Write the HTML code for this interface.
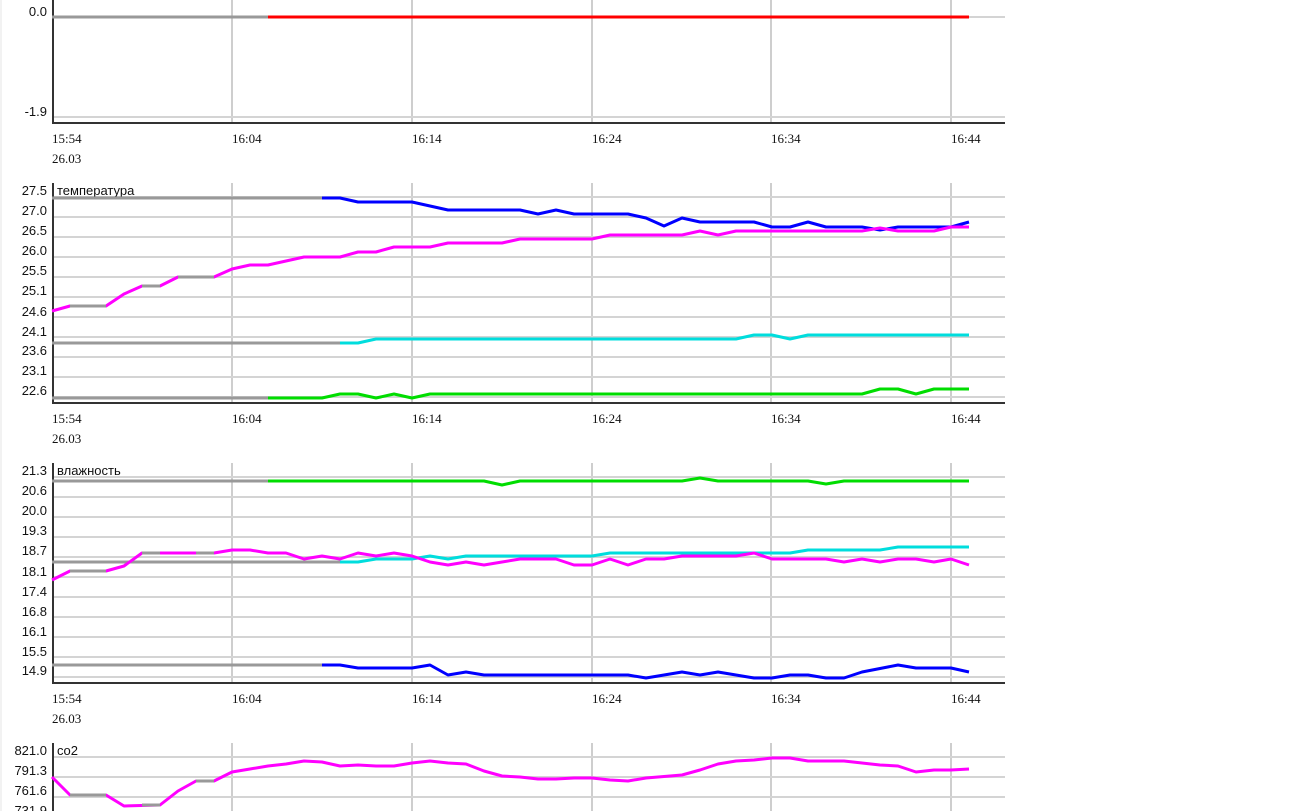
<!DOCTYPE html>
<html><head><meta charset="utf-8"><style>
html,body{margin:0;padding:0;background:#fff;width:1314px;height:811px;overflow:hidden}
svg{display:block}
.yl{font-family:"Liberation Sans",sans-serif;font-size:13px;fill:#111;text-anchor:end}
.xl{font-family:"Liberation Serif",serif;font-size:13px;fill:#111}
.tt{font-family:"Liberation Sans","Noto Sans CJK JP",sans-serif;font-size:13px;fill:#111}
.g{stroke:#d4d4d4;stroke-width:2}
.v{stroke:#bdbdbd;stroke-width:1.5}
.ax{stroke:#333;stroke-width:2}
polyline{fill:none;stroke-width:3;stroke-linejoin:round}
</style></head><body>
<svg width="1314" height="811" xmlns="http://www.w3.org/2000/svg">
<line x1="1" y1="0" x2="1" y2="811" stroke="#e4e4e4"/>
<!-- vertical grids -->
<g class="v">
<line x1="232" y1="0" x2="232" y2="123"/><line x1="412" y1="0" x2="412" y2="123"/><line x1="592" y1="0" x2="592" y2="123"/><line x1="771" y1="0" x2="771" y2="123"/><line x1="951" y1="0" x2="951" y2="123"/>
<line x1="232" y1="183" x2="232" y2="403"/><line x1="412" y1="183" x2="412" y2="403"/><line x1="592" y1="183" x2="592" y2="403"/><line x1="771" y1="183" x2="771" y2="403"/><line x1="951" y1="183" x2="951" y2="403"/>
<line x1="232" y1="463" x2="232" y2="683"/><line x1="412" y1="463" x2="412" y2="683"/><line x1="592" y1="463" x2="592" y2="683"/><line x1="771" y1="463" x2="771" y2="683"/><line x1="951" y1="463" x2="951" y2="683"/>
<line x1="232" y1="743" x2="232" y2="811"/><line x1="412" y1="743" x2="412" y2="811"/><line x1="592" y1="743" x2="592" y2="811"/><line x1="771" y1="743" x2="771" y2="811"/><line x1="951" y1="743" x2="951" y2="811"/>
</g>
<!-- horizontal grids -->
<g class="g">
<line x1="52" y1="17" x2="1005" y2="17"/><line x1="52" y1="117" x2="1005" y2="117"/>
<line x1="52" y1="197" x2="1005" y2="197"/><line x1="52" y1="217" x2="1005" y2="217"/><line x1="52" y1="237" x2="1005" y2="237"/><line x1="52" y1="257" x2="1005" y2="257"/><line x1="52" y1="277" x2="1005" y2="277"/><line x1="52" y1="297" x2="1005" y2="297"/><line x1="52" y1="317" x2="1005" y2="317"/><line x1="52" y1="337" x2="1005" y2="337"/><line x1="52" y1="357" x2="1005" y2="357"/><line x1="52" y1="377" x2="1005" y2="377"/><line x1="52" y1="397" x2="1005" y2="397"/>
<line x1="52" y1="477" x2="1005" y2="477"/><line x1="52" y1="497" x2="1005" y2="497"/><line x1="52" y1="517" x2="1005" y2="517"/><line x1="52" y1="537" x2="1005" y2="537"/><line x1="52" y1="557" x2="1005" y2="557"/><line x1="52" y1="577" x2="1005" y2="577"/><line x1="52" y1="597" x2="1005" y2="597"/><line x1="52" y1="617" x2="1005" y2="617"/><line x1="52" y1="637" x2="1005" y2="637"/><line x1="52" y1="657" x2="1005" y2="657"/><line x1="52" y1="677" x2="1005" y2="677"/>
<line x1="52" y1="757" x2="1005" y2="757"/><line x1="52" y1="777" x2="1005" y2="777"/><line x1="52" y1="797" x2="1005" y2="797"/>
</g>
<!-- axes -->
<g class="ax">
<line x1="53" y1="0" x2="53" y2="124"/><line x1="52" y1="123" x2="1005" y2="123"/>
<line x1="53" y1="183" x2="53" y2="404"/><line x1="52" y1="403" x2="1005" y2="403"/>
<line x1="53" y1="463" x2="53" y2="684"/><line x1="52" y1="683" x2="1005" y2="683"/>
<line x1="53" y1="743" x2="53" y2="811"/>
</g>
<!-- y labels -->
<text class="yl" x="47" y="16">0.0</text><text class="yl" x="47" y="116">-1.9</text>
<text class="yl" x="47" y="195">27.5</text><text class="yl" x="47" y="215">27.0</text><text class="yl" x="47" y="235">26.5</text><text class="yl" x="47" y="255">26.0</text><text class="yl" x="47" y="275">25.5</text><text class="yl" x="47" y="295">25.1</text><text class="yl" x="47" y="316">24.6</text><text class="yl" x="47" y="336">24.1</text><text class="yl" x="47" y="355">23.6</text><text class="yl" x="47" y="375">23.1</text><text class="yl" x="47" y="395">22.6</text>
<text class="yl" x="47" y="475">21.3</text><text class="yl" x="47" y="495">20.6</text><text class="yl" x="47" y="515">20.0</text><text class="yl" x="47" y="535">19.3</text><text class="yl" x="47" y="555">18.7</text><text class="yl" x="47" y="576">18.1</text><text class="yl" x="47" y="596">17.4</text><text class="yl" x="47" y="616">16.8</text><text class="yl" x="47" y="636">16.1</text><text class="yl" x="47" y="656">15.5</text><text class="yl" x="47" y="675">14.9</text>
<text class="yl" x="47" y="755">821.0</text><text class="yl" x="47" y="775">791.3</text><text class="yl" x="47" y="795">761.6</text><text class="yl" x="47" y="815">731.9</text>
<text class="tt" x="57" y="195">температура</text><text class="tt" x="57" y="475">влажность</text><text class="tt" x="57" y="755">co2</text>
<!-- x labels -->
<g class="xl">
<text x="52" y="143">15:54</text><text x="52" y="163">26.03</text><text x="232" y="143">16:04</text><text x="412" y="143">16:14</text><text x="592" y="143">16:24</text><text x="771" y="143">16:34</text><text x="951" y="143">16:44</text>
<text x="52" y="423">15:54</text><text x="52" y="443">26.03</text><text x="232" y="423">16:04</text><text x="412" y="423">16:14</text><text x="592" y="423">16:24</text><text x="771" y="423">16:34</text><text x="951" y="423">16:44</text>
<text x="52" y="703">15:54</text><text x="52" y="723">26.03</text><text x="232" y="703">16:04</text><text x="412" y="703">16:14</text><text x="592" y="703">16:24</text><text x="771" y="703">16:34</text><text x="951" y="703">16:44</text>
</g>
<!-- chart1 -->
<polyline stroke="#999" points="52,17 268,17"/>
<polyline stroke="#f00" points="268,17 969,17"/>
<!-- chart2 -->
<polyline stroke="#999" points="52,198 322,198"/>
<polyline stroke="#00f" points="322,198 340,198 358,202 412,202 448,210 520,210 538,214 556,210 574,214 628,214 646,218 664,226 682,218 700,222 754,222 772,227 790,227 808,222 826,227 862,227 880,230 898,227 951,227 969,222"/>
<polyline stroke="#f0f" points="52,311 70,306 106,306 124,294 142,286 160,286 178,277 214,277 232,269 250,265 268,265 286,261 304,257 340,257 358,252 376,252 394,247 430,247 448,243 502,243 520,239 592,239 610,235 682,235 700,231 718,235 736,231 862,231 880,228 898,231 934,231 951,227 969,227"/>
<polyline stroke="#999" points="70,306 106,306"/><polyline stroke="#999" points="142,286 160,286"/><polyline stroke="#999" points="178,277 214,277"/>
<polyline stroke="#999" points="52,343 340,343"/>
<polyline stroke="#0dd" points="340,343 358,343 376,339 736,339 754,335 772,335 790,339 808,335 969,335"/>
<polyline stroke="#999" points="52,398 268,398"/>
<polyline stroke="#0d0" points="268,398 322,398 340,394 358,394 376,398 394,394 412,398 430,394 862,394 880,389 898,389 916,394 934,389 969,389"/>
<!-- chart3 -->
<polyline stroke="#999" points="52,481 268,481"/>
<polyline stroke="#0d0" points="268,481 484,481 502,485 520,481 682,481 700,478 718,481 808,481 826,484 844,481 969,481"/>
<polyline stroke="#999" points="52,562 340,562"/>
<polyline stroke="#0dd" points="340,562 358,562 376,559 412,559 430,556 448,559 466,556 592,556 610,553 790,553 808,550 880,550 898,547 969,547"/>
<polyline stroke="#f0f" points="52,580 70,571 106,571 124,566 142,553 214,553 232,550 250,550 268,553 286,553 304,559 322,556 340,559 358,553 376,556 394,553 412,556 430,562 448,565 466,562 484,565 502,562 520,559 556,559 574,565 592,565 610,559 628,565 646,559 664,559 682,556 736,556 754,553 772,559 826,559 844,562 862,559 880,562 898,559 916,559 934,562 951,559 969,565"/>
<polyline stroke="#999" points="70,571 106,571"/><polyline stroke="#999" points="142,553 160,553"/><polyline stroke="#999" points="196,553 214,553"/>
<polyline stroke="#999" points="52,665 322,665"/>
<polyline stroke="#00f" points="322,665 340,665 358,668 412,668 430,665 448,675 466,672 484,675 628,675 646,678 682,672 700,675 718,672 754,678 772,678 790,675 808,675 826,678 844,678 862,672 898,665 916,668 951,668 969,672"/>
<!-- chart4 -->
<polyline stroke="#f0f" points="52,777 70,795 106,795 124,806 160,805 178,791 196,781 214,781 232,772 250,769 268,766 286,764 304,761 322,762 340,766 358,765 376,766 394,766 412,763 430,761 448,763 466,764 484,771 502,776 520,777 538,779 556,779 574,778 592,778 610,780 628,781 646,778 682,775 700,770 718,764 736,761 754,760 772,758 790,758 808,761 844,761 862,763 880,765 898,766 916,772 934,770 951,770 969,769"/>
<polyline stroke="#999" points="70,795 106,795"/><polyline stroke="#999" points="142,805 160,805"/><polyline stroke="#999" points="196,781 214,781"/>
</svg>
</body></html>
